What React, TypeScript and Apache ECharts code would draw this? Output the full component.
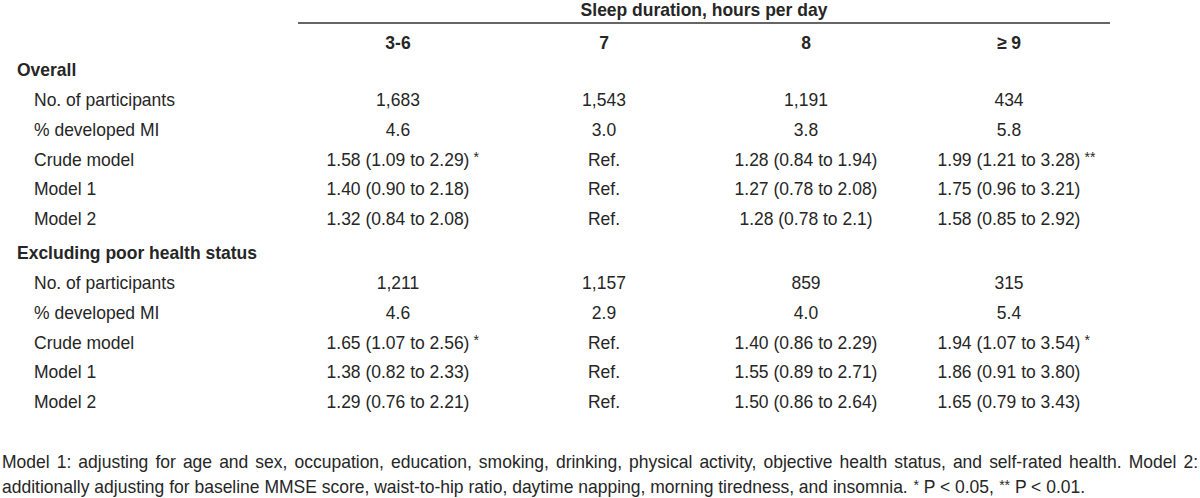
import React, { useEffect, useRef } from "react";
import * as echarts from "echarts";

const spanTitle = "Sleep duration, hours per day";
const categories = ["3-6", "7", "8", "≥ 9"];
const groups = ["Overall", "Excluding poor health status"];
const rowLabels = ["No. of participants", "% developed MI", "Crude model", "Model 1", "Model 2"];

const overallValues = [
  ["1,683", "1,543", "1,191", "434"],
  ["4.6", "3.0", "3.8", "5.8"],
  ["1.58 (1.09 to 2.29)", "Ref.", "1.28 (0.84 to 1.94)", "1.99 (1.21 to 3.28)"],
  ["1.40 (0.90 to 2.18)", "Ref.", "1.27 (0.78 to 2.08)", "1.75 (0.96 to 3.21)"],
  ["1.32 (0.84 to 2.08)", "Ref.", "1.28 (0.78 to 2.1)", "1.58 (0.85 to 2.92)"],
];
const overallMarks = [
  ["", "", "", ""],
  ["", "", "", ""],
  ["*", "", "", "**"],
  ["", "", "", ""],
  ["", "", "", ""],
];
const excludingValues = [
  ["1,211", "1,157", "859", "315"],
  ["4.6", "2.9", "4.0", "5.4"],
  ["1.65 (1.07 to 2.56)", "Ref.", "1.40 (0.86 to 2.29)", "1.94 (1.07 to 3.54)"],
  ["1.38 (0.82 to 2.33)", "Ref.", "1.55 (0.89 to 2.71)", "1.86 (0.91 to 3.80)"],
  ["1.29 (0.76 to 2.21)", "Ref.", "1.50 (0.86 to 2.64)", "1.65 (0.79 to 3.43)"],
];
const excludingMarks = [
  ["", "", "", ""],
  ["", "", "", ""],
  ["*", "", "", "*"],
  ["", "", "", ""],
  ["", "", "", ""],
];
const footnoteLine1 =
  "Model 1: adjusting for age and sex, occupation, education, smoking, drinking, physical activity, objective health status, and self-rated health. Model 2:";
const footnoteLine2 = [
  "additionally adjusting for baseline MMSE score, waist-to-hip ratio, daytime napping, morning tiredness, and insomnia. ",
  "*",
  " P < 0.05, ",
  "**",
  " P < 0.01.",
];

const FAMILY = "'Liberation Sans', Arial, Helvetica, sans-serif";
const FS = 17.5;
const STAR_FS = 14;
const COLOR = "#262626";

export default function App() {
  const ref = useRef<HTMLDivElement>(null);

  useEffect(() => {
    if (!ref.current) return;
    const chart = echarts.init(ref.current, undefined, { renderer: "svg" });
    const canvas = document.createElement("canvas");
    const ctx = canvas.getContext("2d")!;
    const measure = (s: string, size = FS, weight = "normal") => {
      ctx.font = `${weight} ${size}px ${FAMILY}`;
      return ctx.measureText(s).width;
    };

    const colX = [398, 604, 806, 1009];
    const elements: any[] = [];
    const txt = (
      text: string,
      x: number,
      y: number,
      opts: { align?: string; weight?: string; size?: number } = {}
    ) => {
      elements.push({
        type: "text",
        x,
        y,
        scaleY: 1.06,
        silent: true,
        style: {
          text,
          fill: COLOR,
          fontSize: opts.size ?? FS,
          fontFamily: FAMILY,
          fontWeight: opts.weight ?? "normal",
          align: opts.align ?? "left",
          textAlign: opts.align ?? "left",
          verticalAlign: "middle",
          textVerticalAlign: "middle",
        },
      });
    };

    // header
    txt(spanTitle, 704, 10, { align: "center", weight: "bold" });
    elements.push({
      type: "line",
      silent: true,
      shape: { x1: 298, y1: 23, x2: 1110, y2: 23 },
      style: { stroke: "#333", lineWidth: 1.5 },
    });
    categories.forEach((c, i) => txt(c, colX[i], 43, { align: "center", weight: "bold" }));

    const drawGroup = (title: string, y0: number, values: string[][], marks: string[][]) => {
      txt(title, 17, y0, { weight: "bold" });
      const step = 29.7;
      rowLabels.forEach((lab, r) => {
        const y = y0 + 30 + r * step;
        txt(lab, 34, y);
        values[r].forEach((v, c) => {
          txt(v, colX[c], y, { align: "center" });
          if (marks[r][c]) {
            const w = measure(v);
            txt(marks[r][c], colX[c] + w / 2 + 4, y - 3, { size: STAR_FS });
          }
        });
      });
    };
    drawGroup(groups[0], 70, overallValues, overallMarks);
    drawGroup(groups[1], 253, excludingValues, excludingMarks);

    // footnote line 1 (justified)
    const words = footnoteLine1.split(" ");
    const widths = words.map((w) => measure(w));
    const total = widths.reduce((a, b) => a + b, 0);
    const left = 2;
    const right = 1198;
    const gap = (right - left - total) / (words.length - 1);
    let cx = left;
    words.forEach((w, i) => {
      txt(w, cx, 462);
      cx += widths[i] + gap;
    });

    // footnote line 2 with superscript stars
    elements.push({
      type: "text",
      x: 2,
      y: 487,
      scaleY: 1.06,
      silent: true,
      style: {
        text: footnoteLine2
          .map((p) => (p.startsWith("*") ? `{s|${p}}` : `{n|${p}}`))
          .join(""),
        fill: COLOR,
        fontSize: FS,
        fontFamily: FAMILY,
        align: "left",
        textAlign: "left",
        verticalAlign: "middle",
        textVerticalAlign: "middle",
        rich: {
          n: { fontSize: FS, fontFamily: FAMILY, fill: COLOR },
          s: { fontSize: STAR_FS, fontFamily: FAMILY, fill: COLOR, verticalAlign: "top" },
        },
      },
    });

    chart.setOption({
      animation: false,
      backgroundColor: "#ffffff",
      graphic: { elements },
    });
    return () => chart.dispose();
  }, []);

  return (
    <div
      ref={ref}
      style={{ position: "fixed", left: 0, top: 0, width: 1200, height: 498, background: "#fff" }}
    />
  );
}
